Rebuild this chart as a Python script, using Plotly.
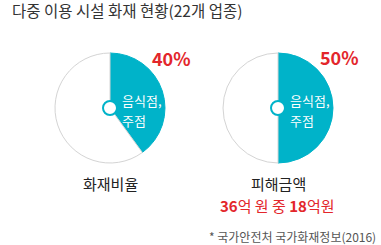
import plotly.graph_objects as go

W, H = 381, 245
categories = ["음식점, 주점", "기타"]
fire_ratio = [40, 60]
damage_ratio = [50, 50]
chart_titles = ["화재비율", "피해금액"]
pct_labels = ["40%", "50%"]

TEAL = "#00b3c9"
RED = "#e3262b"
GRAY = "#d4d4d4"
FONT = "Noto Sans CJK KR"

def px(x):
    return x / W

def py(y):
    return 1 - y / H

fig = go.Figure()
centers = [(110, 108), (278, 108)]
R = 55
for (cx, cy), vals in zip(centers, [fire_ratio, damage_ratio]):
    fig.add_trace(go.Pie(
        labels=categories, values=vals, sort=False, direction="clockwise",
        rotation=0, textinfo="none", hoverinfo="label+percent",
        marker=dict(colors=[TEAL, "white"], line=dict(color=[TEAL, GRAY], width=1)),
        domain=dict(x=[px(cx - R), px(cx + R)], y=[py(cy + R), py(cy - R)]),
        showlegend=False,
    ))

shapes = []
annotations = []

def ann(x, y, text, size, color, xanchor="center", bold=False, pad=1):
    annotations.append(dict(x=px(x), y=py(y), xref="paper", yref="paper",
                            xanchor=xanchor, yanchor="middle", borderpad=pad,
                            text=("<b>%s</b>" % text) if bold else text,
                            showarrow=False,
                            font=dict(color=color, size=size, family=FONT)))

pct_pos = [(171, 58), (339, 57)]
for i, (cx, cy) in enumerate(centers):
    r = 7
    shapes.append(dict(type="circle", xref="paper", yref="paper",
                       x0=px(cx - r), x1=px(cx + r), y0=py(cy + r), y1=py(cy - r),
                       fillcolor="white", line=dict(color=TEAL, width=2)))
    ann(cx + 10, 100, "음식점,", 13, "white", xanchor="left")
    ann(cx + 10, 120, "주점", 13, "white", xanchor="left")
    ann(pct_pos[i][0], pct_pos[i][1], pct_labels[i], 18, RED, bold=True)
    ann(cx, 183, chart_titles[i], 15, "#222222")

ann(277, 205, "<b>36</b>억 원 중 <b>18</b>억원", 15, RED)
ann(10, 10, "다중 이용 시설 화재 현황(22개 업종)", 15.5, "#333333", xanchor="left")
ann(377, 236.5, "* 국가안전처 국가화재정보(2016)", 12, "#555555", xanchor="right", pad=0)

fig.update_layout(width=W, height=H, margin=dict(l=0, r=0, t=0, b=0),
                  paper_bgcolor="white", plot_bgcolor="white",
                  shapes=shapes, annotations=annotations)
fig.write_html("out.html")
